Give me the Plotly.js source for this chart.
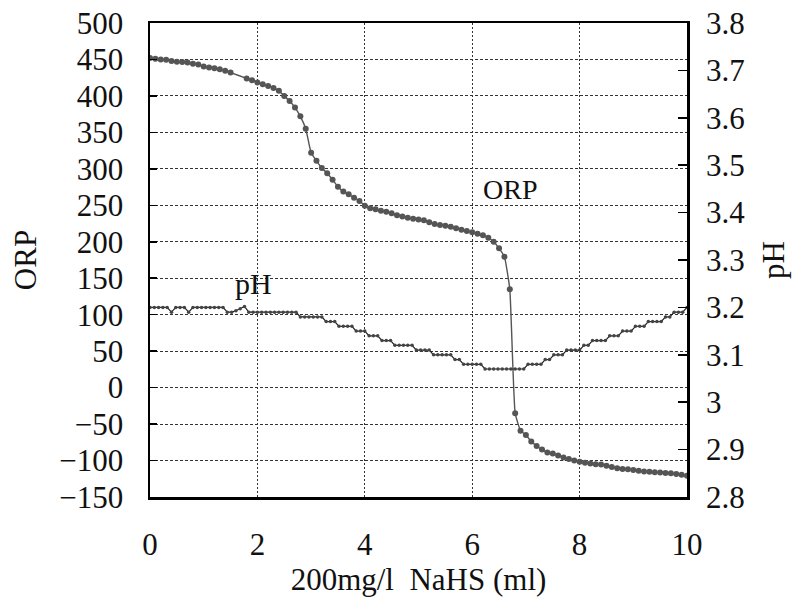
<!DOCTYPE html>
<html>
<head>
<meta charset="utf-8">
<script src="https://cdn.plot.ly/plotly-3.0.1.min.js"></script>
<style>html,body{margin:0;padding:0;background:#fff;}#chart{width:798px;height:607px;}</style>
</head>
<body>
<div id="chart"></div>
<script>
// ORP series (mV) vs titrant volume (ml)
const orpX = [0,0.1,0.2,0.3,0.4,0.5,0.6,0.7,0.8,0.9,1.0,1.1,1.2,1.3,1.4,1.5,1.8,1.9,2.0,2.1,2.2,2.3,2.4,2.5,2.6,2.7,2.8,2.9,3.0,3.1,3.2,3.3,3.4,3.5,3.6,3.7,3.8,3.9,4.0,4.1,4.2,4.3,4.4,4.5,4.6,4.7,4.8,4.9,5.0,5.1,5.2,5.3,5.4,5.5,5.6,5.7,5.8,5.9,6.0,6.1,6.2,6.3,6.4,6.5,6.6,6.7,6.8,6.9,7.0,7.1,7.2,7.3,7.4,7.5,7.6,7.7,7.8,7.9,8.0,8.1,8.2,8.3,8.4,8.5,8.6,8.7,8.8,8.9,9.0,9.1,9.2,9.3,9.4,9.5,9.6,9.7,9.8,9.9,10.0];
const orpY = [452,451,450,449.5,448,447,446.5,446,444,443,440.5,439,438,436.5,434.5,432,424,421.5,418.5,416,413.5,411,407,400,393,384,372,355,322,311,301,294,285,275.5,269,265,260.5,256,249.5,246,244.5,242.5,241,239,236.5,234.5,233,231.5,230.5,229.5,226.7,224.4,223,222,220.7,218.5,216.6,214.8,213,211,209,205.5,200,191,179.5,135,-35,-59,-65,-74,-80,-85,-89,-90.5,-93,-96,-98,-100,-101.5,-103,-104,-105,-105.5,-107,-109,-110.5,-111.5,-112,-113,-114,-115,-115.5,-116,-116.5,-117,-117.5,-118.5,-119.5,-121];

// pH series vs titrant volume (ml)
const phX = [0,0.08,0.16,0.24,0.32,0.40,0.48,0.56,0.64,0.72,0.80,0.88,0.96,1.04,1.12,1.20,1.28,1.36,1.44,1.52,1.60,1.68,1.76,1.84,1.92,2.00,2.08,2.16,2.24,2.32,2.40,2.48,2.56,2.64,2.72,2.80,2.88,2.96,3.04,3.12,3.20,3.28,3.36,3.44,3.52,3.60,3.68,3.76,3.84,3.92,4.00,4.08,4.16,4.24,4.32,4.40,4.48,4.56,4.64,4.72,4.80,4.88,4.96,5.04,5.12,5.20,5.28,5.36,5.44,5.52,5.60,5.68,5.76,5.84,5.92,6.00,6.08,6.16,6.24,6.32,6.40,6.48,6.56,6.64,6.72,6.80,6.88,6.96,7.04,7.12,7.20,7.28,7.36,7.44,7.52,7.60,7.68,7.76,7.84,7.92,8.00,8.08,8.16,8.24,8.32,8.40,8.48,8.56,8.64,8.72,8.80,8.88,8.96,9.04,9.12,9.20,9.28,9.36,9.44,9.52,9.60,9.68,9.76,9.84,9.92,10.00];
const phY = [3.20,3.20,3.20,3.20,3.20,3.19,3.20,3.20,3.20,3.19,3.20,3.20,3.20,3.20,3.20,3.20,3.20,3.20,3.19,3.19,3.193,3.197,3.202,3.19,3.19,3.19,3.19,3.19,3.19,3.19,3.19,3.19,3.19,3.19,3.19,3.18,3.18,3.18,3.18,3.18,3.18,3.17,3.17,3.17,3.16,3.16,3.16,3.16,3.15,3.15,3.15,3.14,3.14,3.14,3.13,3.13,3.13,3.12,3.12,3.12,3.12,3.12,3.11,3.11,3.11,3.11,3.10,3.10,3.10,3.10,3.10,3.09,3.09,3.08,3.08,3.08,3.08,3.08,3.07,3.07,3.07,3.07,3.07,3.07,3.07,3.07,3.07,3.07,3.08,3.08,3.08,3.08,3.09,3.09,3.10,3.10,3.10,3.11,3.11,3.11,3.11,3.12,3.12,3.13,3.13,3.13,3.13,3.14,3.14,3.14,3.15,3.15,3.15,3.16,3.16,3.16,3.17,3.17,3.17,3.17,3.18,3.18,3.19,3.19,3.19,3.20];

// axis tick labels
const xTickVals = [0,2,4,6,8,10];
const xTickText = ["0","2","4","6","8","10"];
const orpTickVals = [-150,-100,-50,0,50,100,150,200,250,300,350,400,450,500];
const orpTickText = ["\u2212150","\u2212100","\u221250","0","50","100","150","200","250","300","350","400","450","500"];
const phTickVals = [2.8,2.9,3.0,3.1,3.2,3.3,3.4,3.5,3.6,3.7,3.8];
const phTickText = ["2.8","2.9","3","3.1","3.2","3.3","3.4","3.5","3.6","3.7","3.8"];

const FONT = "'Liberation Serif', serif";
const FS = 31;
const FA = 28;
const TXT = "#111111";

const traces = [
  {x: orpX, y: orpY, name: "ORP", type: "scatter", mode: "lines+markers",
   line: {color: "#555555", width: 1.4, shape: "spline", smoothing: 0.4},
   marker: {color: "#555555", size: 6}, yaxis: "y"},
  {x: phX, y: phY, name: "pH", type: "scatter", mode: "lines+markers",
   line: {color: "#222222", width: 1.2},
   marker: {color: "#444444", size: 3.5}, yaxis: "y2"}
];

const layout = {
  width: 798, height: 607,
  margin: {l: 150, r: 111, t: 23, b: 110, pad: 0},
  paper_bgcolor: "#ffffff", plot_bgcolor: "#ffffff",
  showlegend: false,
  font: {family: FONT, size: FS, color: TXT},
  xaxis: {
    range: [0, 10], tickvals: xTickVals, ticktext: xTickText,
    showgrid: true, gridcolor: "#333", gridwidth: 1, griddash: "2px,2px",
    showline: true, linecolor: "#000", linewidth: 2.5, mirror: true,
    ticks: "", zeroline: false, ticklabelstandoff: 18,
    title: {text: "200mg/l\u00a0\u00a0NaHS\u00a0(ml)", font: {size: FS}, standoff: 8}
  },
  yaxis: {
    range: [-150, 500], tickvals: orpTickVals, ticktext: orpTickText,
    showgrid: true, gridcolor: "#333", gridwidth: 1, griddash: "3px,2px",
    showline: true, linecolor: "#000", linewidth: 2.5, mirror: true,
    ticks: "inside", ticklen: 7, tickwidth: 1.5, tickcolor: "#000",
    zeroline: false, ticklabelstandoff: 18,
    title: {text: "ORP", font: {size: FS}, standoff: 14}
  },
  yaxis2: {
    range: [2.8, 3.8], tickvals: phTickVals, ticktext: phTickText,
    overlaying: "y", side: "right", showgrid: false, zeroline: false,
    showline: false, ticks: "inside", ticklen: 9, tickwidth: 1.5, tickcolor: "#000",
    ticklabelstandoff: 18,
    title: {text: "pH", font: {size: FS}, standoff: 18}
  },
  annotations: [
    {x: 6.7, y: 271, xref: "x", yref: "y", text: "ORP", showarrow: false,
     font: {family: FONT, size: FA, color: TXT}},
    {x: 1.92, y: 143, xref: "x", yref: "y", text: "pH", showarrow: false,
     font: {family: FONT, size: 30, color: TXT}}
  ]
};

Plotly.newPlot("chart", traces, layout, {displayModeBar: false, staticPlot: true});
</script>
</body>
</html>
